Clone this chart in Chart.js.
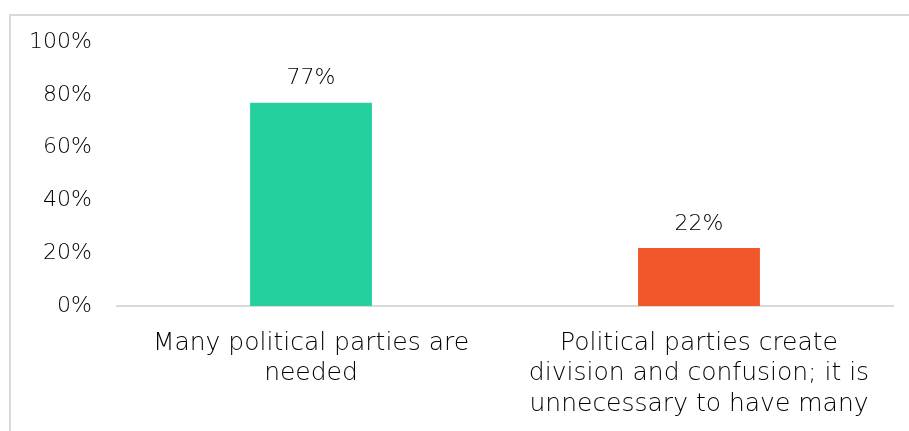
<!DOCTYPE html>
<html>
<head>
<meta charset="utf-8">
<script src="https://cdn.jsdelivr.net/npm/chart.js@4.4.0/dist/chart.umd.min.js"></script>
<style>
    html, body { margin: 0; padding: 0; background: #fff; overflow: hidden; }
    #marco {
        position: absolute; left: 9px; top: 14px; width: 960px; height: 480px;
        border-top: 2px solid #d9d9d9; border-left: 2px solid #d9d9d9;
    }
    #contenedor { position: absolute; left: 0; top: 0; width: 909px; height: 431px; }
</style>
</head>
<body>
<div id="marco"></div>
<div id="contenedor"><canvas id="miGrafico"></canvas></div>
<script>
// Categorías y porcentajes
const categorias = [
    ['Many political parties are', 'needed'],
    ['Political parties create', 'division and confusion; it is', 'unnecessary to have many']
];
const porcentajes = [77, 22];
const coloresBarras = ['#25d09f', '#f2572b'];
const marcasEje = [0, 20, 40, 60, 80, 100];

const fuente = "'DejaVu Sans', sans-serif";
const colorTexto = '#000000';

// Etiquetas de valor encima de cada barra
const etiquetasValor = {
    id: 'etiquetasValor',
    afterDatasetsDraw(chart) {
        const ctx = chart.ctx;
        const meta = chart.getDatasetMeta(0);
        ctx.save();
        ctx.font = '200 22px ' + fuente;
        ctx.fillStyle = colorTexto;
        ctx.textAlign = 'center';
        ctx.textBaseline = 'middle';
        meta.data.forEach((barra, i) => {
            ctx.fillText(porcentajes[i] + '%', barra.x, barra.y - 24);
        });
        ctx.restore();
    }
};

const ctx = document.getElementById('miGrafico').getContext('2d');
const miGrafico = new Chart(ctx, {
    type: 'bar',
    data: {
        labels: categorias,
        datasets: [{
            data: porcentajes,
            backgroundColor: coloresBarras,
            barPercentage: 0.314,
            categoryPercentage: 1
        }]
    },
    options: {
        responsive: true,
        maintainAspectRatio: false,
        animation: false,
        layout: { padding: { top: 42, right: 16, left: 0, bottom: 0 } },
        plugins: {
            legend: { display: false },
            tooltip: { enabled: false }
        },
        scales: {
            x: {
                grid: { display: false, drawTicks: false },
                border: { color: '#d9d9d9', width: 2 },
                ticks: {
                    color: colorTexto,
                    font: { family: fuente, size: 25, weight: '200', lineHeight: 1.22 },
                    padding: 22,
                    maxRotation: 0,
                    autoSkip: false
                },
                afterFit(escala) { escala.height = 125; }
            },
            y: {
                min: 0,
                max: 100,
                afterBuildTicks(escala) {
                    escala.ticks = marcasEje.map(v => ({ value: v }));
                },
                grid: { display: false, drawTicks: false },
                border: { display: false },
                ticks: {
                    color: colorTexto,
                    font: { family: fuente, size: 22, weight: '200' },
                    padding: 25,
                    callback: v => v + '%'
                },
                afterFit(escala) { escala.width = 117; }
            }
        }
    },
    plugins: [etiquetasValor]
});
</script>
</body>
</html>
